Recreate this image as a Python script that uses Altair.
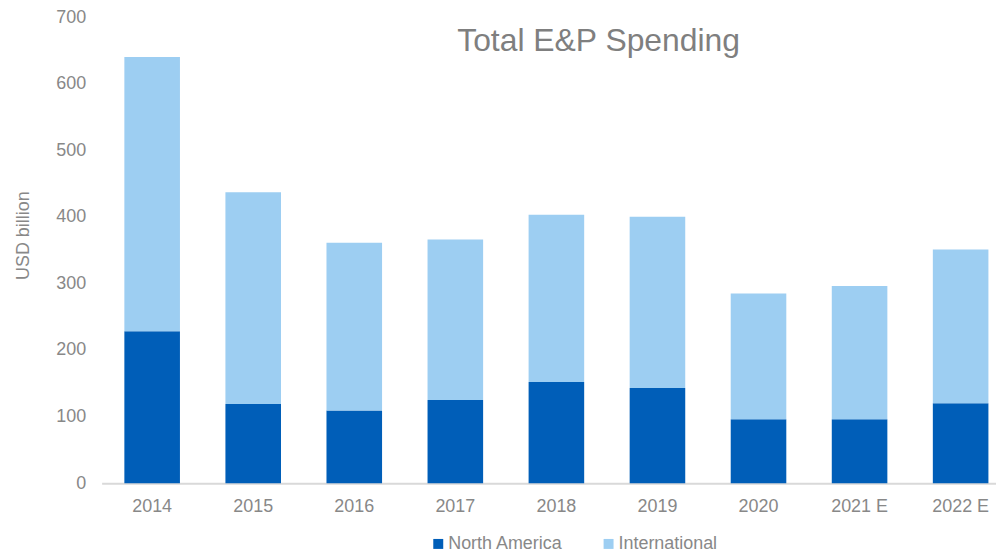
import altair as alt
import pandas as pd

years = ["2014", "2015", "2016", "2017", "2018", "2019", "2020", "2021 E", "2022 E"]
north_america = [228, 119, 109, 125, 152, 143, 96, 96, 120]
international = [412, 318, 252, 241, 251, 257, 189, 200, 231]
series_names = ["North America", "International"]
y_ticks = [0, 100, 200, 300, 400, 500, 600, 700]
chart_title = "Total E&P Spending"

rows = []
for i, y in enumerate(years):
    rows.append({"year": y, "series": series_names[0], "value": north_america[i], "ord": 0})
    rows.append({"year": y, "series": series_names[1], "value": international[i], "ord": 1})
df = pd.DataFrame(rows)

FONT = "Liberation Sans"
GRAY = "#888888"

bars = alt.Chart(df).mark_bar().encode(
    x=alt.X("year:N", sort=years, title=None,
            scale=alt.Scale(paddingInner=0.45, paddingOuter=0.15, align=0.75),
            axis=alt.Axis(labelAngle=0, labelFontSize=18, labelColor=GRAY, labelFont=FONT,
                          ticks=False, domainColor="#d9d9d9", domainWidth=2, labelPadding=14)),
    y=alt.Y("value:Q", stack="zero", title="USD billion",
            scale=alt.Scale(domain=[0, 700], nice=False),
            axis=alt.Axis(values=y_ticks, grid=False, domain=False, ticks=False,
                          labelFontSize=18, labelColor=GRAY, labelFont=FONT, labelPadding=16,
                          titleFontSize=18, titleColor=GRAY, titleFont=FONT, titleFontWeight="normal",
                          titleX=-78, titleY=219, titleAngle=-90, titleBaseline="middle", titleAlign="center")),
    color=alt.Color("series:N", scale=alt.Scale(domain=series_names, range=["#005EB8", "#9DCEF2"]),
                    legend=alt.Legend(title=None, orient="none", legendX=329, legendY=520,
                                      direction="horizontal", symbolType="square", symbolSize=100,
                                      symbolStrokeWidth=0, labelFontSize=18, labelColor=GRAY,
                                      labelFont=FONT, labelOffset=1, columnPadding=36, padding=0)),
    order=alt.Order("ord:Q"),
)

title = alt.Chart(pd.DataFrame({"t": [chart_title]})).mark_text(
    fontSize=32, font=FONT, color="#7f7f7f", align="center", baseline="middle"
).encode(x=alt.value(499), y=alt.value(24), text="t:N")

chart = alt.layer(bars, title).properties(
    width=898, height=468,
    autosize=alt.AutoSizeParams(type="none"),
    padding={"left": 94, "top": 8, "right": 0, "bottom": 68},
).configure_view(stroke=None)

chart.save("out.html", embed_options={"renderer": "svg", "actions": False})
